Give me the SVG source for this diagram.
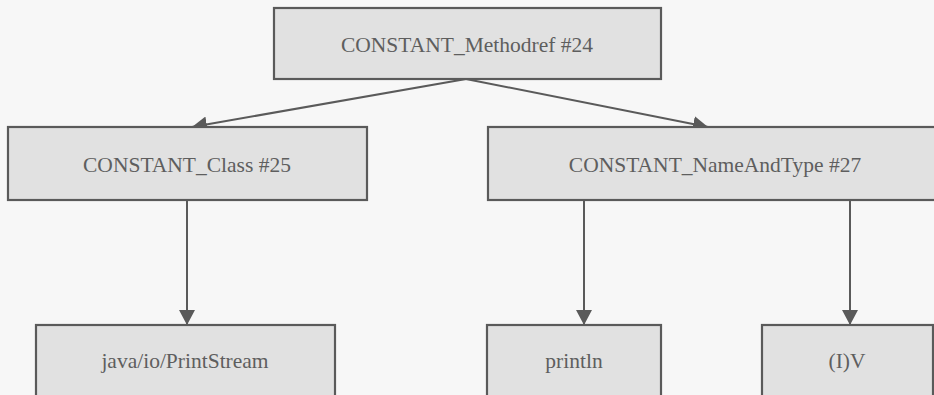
<svg xmlns="http://www.w3.org/2000/svg" width="934" height="395" viewBox="0 0 934 395">
  <style>
    .box { fill: #e1e1e1; stroke: #5a5a5a; stroke-width: 2.2; }
    .lbl { font-family: "Liberation Serif", "Times New Roman", serif; font-size: 21.5px; fill: #5e5e5e; text-anchor: middle; }
    .edge { stroke: #5a5a5a; stroke-width: 2; fill: none; marker-end: url(#arrow); }
  </style>
  <defs>
    <marker id="arrow" viewBox="0 0 15 16" refX="15" refY="8" markerWidth="15" markerHeight="16" markerUnits="userSpaceOnUse" orient="auto">
      <path d="M0,0 L15,8 L0,16 Z" fill="#5a5a5a"/>
    </marker>
  </defs>
  <rect width="934" height="395" fill="#f7f7f7"/>

  <g id="connectors">
    <line class="edge" x1="466" y1="79" x2="192" y2="127"/>
    <line class="edge" x1="466" y1="79" x2="708" y2="127"/>
    <line class="edge" x1="187" y1="200" x2="187" y2="325"/>
    <line class="edge" x1="584" y1="200" x2="584" y2="325"/>
    <line class="edge" x1="850" y1="200" x2="850" y2="325"/>
  </g>

  <g id="methodref">
    <rect class="box" x="274" y="8" width="387" height="71"/>
    <text class="lbl" x="467" y="52">CONSTANT_Methodref #24</text>
  </g>
  <g id="class25">
    <rect class="box" x="8" y="127" width="359" height="73"/>
    <text class="lbl" x="187" y="172">CONSTANT_Class #25</text>
  </g>
  <g id="nameandtype27">
    <rect class="box" x="488" y="127" width="460" height="73"/>
    <text class="lbl" x="715" y="172">CONSTANT_NameAndType #27</text>
  </g>
  <g id="printstream">
    <rect class="box" x="36" y="325" width="299" height="90"/>
    <text class="lbl" x="185" y="368">java/io/PrintStream</text>
  </g>
  <g id="println">
    <rect class="box" x="487" y="325" width="174" height="90"/>
    <text class="lbl" x="574" y="368">println</text>
  </g>
  <g id="descriptor">
    <rect class="box" x="762" y="325" width="171" height="90"/>
    <text class="lbl" x="847" y="368">(I)V</text>
  </g>
</svg>
